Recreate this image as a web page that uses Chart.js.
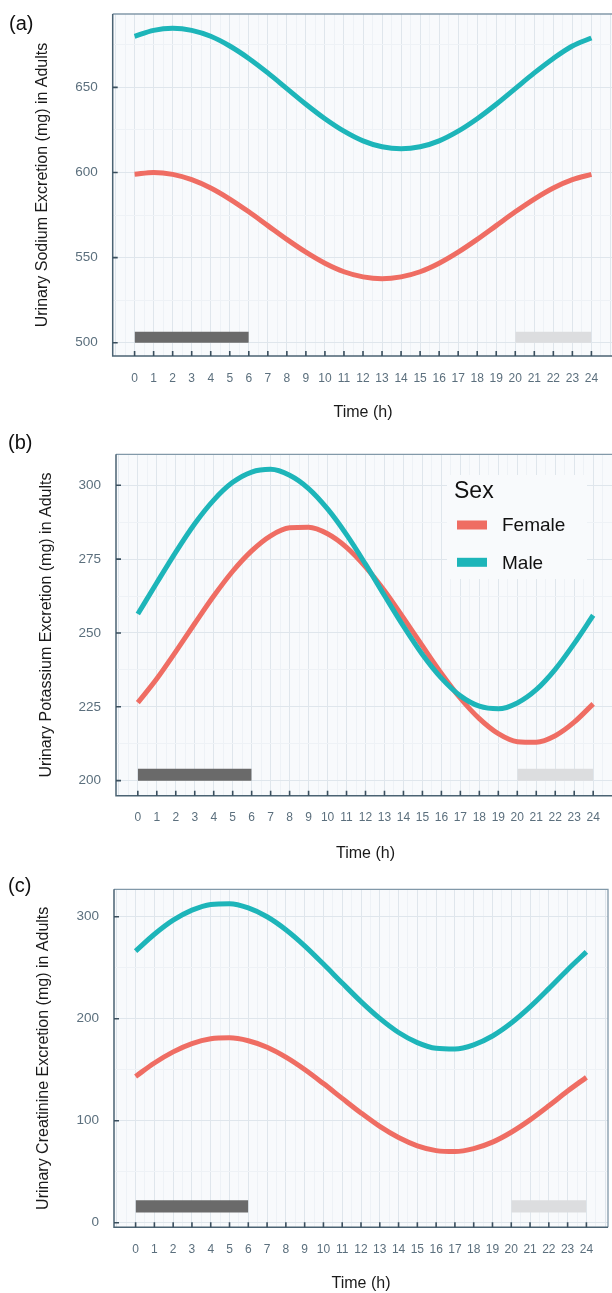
<!DOCTYPE html>
<html>
<head>
<meta charset="utf-8">
<script src="https://cdn.jsdelivr.net/npm/chart.js@4.4.1/dist/chart.umd.min.js"></script>
<style>
html, body { margin: 0; padding: 0; background: #fff; }
#wrap { position: relative; width: 612px; height: 1293px; overflow: hidden; }
canvas { position: absolute; left: 0; }
</style>
</head>
<body>
<div id="wrap">
  <canvas id="chartA" width="620" height="430" style="top:0px"></canvas>
  <canvas id="chartB" width="620" height="440" style="top:425px"></canvas>
  <canvas id="chartC" width="620" height="433" style="top:860px"></canvas>
</div>
<script>
// hours of the day (x axis ticks)
var hours = [0,1,2,3,4,5,6,7,8,9,10,11,12,13,14,15,16,17,18,19,20,21,22,23,24];

// (a) sodium
var sodiumMale   = [680.0,683.5,684.7,683.5,680.0,674.3,667.0,658.5,649.3,640.1,631.6,624.3,618.6,615.1,613.9,615.1,618.6,624.3,631.6,640.1,649.3,658.5,667.0,674.3,679.0];
var sodiumFemale = [598.9,600.0,598.9,595.8,590.9,584.4,576.9,568.8,560.7,553.2,546.7,541.7,538.7,537.6,538.7,541.7,546.7,553.2,560.7,568.8,576.9,584.4,590.9,595.8,598.9];
var sodiumTicks  = [500,550,600,650];

// (b) potassium
var potassiumMale   = [256.4,267.0,277.4,287.0,295.0,301.0,304.5,305.4,303.4,298.9,292.0,283.3,273.3,262.7,252.3,242.7,234.7,228.7,225.2,224.3,226.3,230.8,237.7,246.4,256.0];
var potassiumFemale = [226.4,234.5,243.7,253.2,262.5,270.9,277.8,282.9,285.6,285.8,283.6,279.0,272.4,264.3,255.1,245.6,236.3,227.9,221.0,215.9,213.2,213.0,215.2,219.8,226.0];
var potassiumTicks  = [200,225,250,275,300];

// (c) creatinine
var creatinineMale   = [266.3,282.8,296.6,306.5,312.1,312.8,308.7,300.0,287.3,271.5,253.6,235.0,216.8,200.3,186.5,176.6,171.0,170.3,174.4,183.1,195.8,211.6,229.5,248.1,265.5];
var creatinineFemale = [143.4,156.6,167.5,175.6,180.3,181.3,178.4,172.0,162.3,150.2,136.4,121.9,107.6,94.4,83.5,75.4,70.7,69.7,72.6,79.0,88.7,100.8,114.6,129.1,142.5];
var creatinineTicks  = [0,100,200,300];

// sleep / evening bands (hours)
var darkBand  = [0, 6];
var lightBand = [20, 24];

var sexLabels = ['Female', 'Male'];

var TEAL = '#1db5b9';
var SALMON = '#ef6d63';
var FONT = "'Liberation Sans', Arial, sans-serif";
var plotBg = '#f8fafc';
var gridMajor = '#dfe6ec';
var gridMinor = '#eef2f6';
var tickColor = '#5b6f7d';

function pts(ys) {
  return hours.map(function (h, i) { return {x: h, y: ys[i]}; });
}

var panelPlugin = {
  id: 'panel',
  beforeDraw: function (chart) {
    var a = chart.chartArea, c = chart.ctx;
    c.save();
    c.fillStyle = plotBg;
    c.fillRect(a.left, a.top, a.right - a.left, a.bottom - a.top);
    c.restore();
  },
  beforeDatasetsDraw: function (chart) {
    var p = chart.options.plugins.panel;
    if (!p.legend) return;
    var c = chart.ctx;
    c.save();
    c.fillStyle = plotBg;
    c.fillRect(447, 50, 140, 104);
    c.restore();
  },
  afterDraw: function (chart) {
    var p = chart.options.plugins.panel;
    var a = chart.chartArea, c = chart.ctx;
    var xs = chart.scales.x, ys = chart.scales.y;
    c.save();
    // frame
    c.strokeStyle = '#8299a9';
    c.lineWidth = 1.3;
    c.beginPath();
    c.moveTo(a.left, a.top); c.lineTo(a.right, a.top); c.lineTo(a.right, a.bottom);
    c.stroke();
    c.strokeStyle = '#4b6373';
    c.lineWidth = 1.5;
    c.beginPath();
    c.moveTo(a.left, a.top); c.lineTo(a.left, a.bottom); c.lineTo(a.right, a.bottom);
    c.stroke();
    // inward tick marks
    c.strokeStyle = '#3a4f5e';
    c.lineWidth = 1.6;
    c.beginPath();
    hours.forEach(function (h) {
      var px = xs.getPixelForValue(h);
      c.moveTo(px, a.bottom); c.lineTo(px, a.bottom - 5);
    });
    p.yTicks.forEach(function (v) {
      var py = ys.getPixelForValue(v);
      c.moveTo(a.left, py); c.lineTo(a.left + 5, py);
    });
    c.stroke();
    // panel tag
    c.fillStyle = '#111';
    c.font = '20px ' + FONT;
    c.textBaseline = 'middle';
    c.textAlign = 'left';
    c.fillText(p.tag, p.tagX, p.tagY);
    // legend
    if (p.legend) {
      c.font = '23px ' + FONT;
      c.fillText('Sex', 454, 67);
      var cols = [SALMON, TEAL];
      sexLabels.forEach(function (lab, i) {
        var y = 100 + i * 37.3;
        c.fillStyle = cols[i];
        c.fillRect(457, y - 4.5, 30, 9);
        c.fillStyle = '#111';
        c.font = '19px ' + FONT;
        c.fillText(lab, 502, y + 1);
      });
    }
    c.restore();
  }
};

function makeChart(id, p) {
  var ctx = document.getElementById(id).getContext('2d');
  return new Chart(ctx, {
    type: 'line',
    data: {
      datasets: [
        { label: 'Male', data: pts(p.male), borderColor: TEAL, borderWidth: 5, pointRadius: 0,
          cubicInterpolationMode: 'monotone', fill: false, borderCapStyle: 'butt' },
        { label: 'Female', data: pts(p.female), borderColor: SALMON, borderWidth: 5, pointRadius: 0,
          cubicInterpolationMode: 'monotone', fill: false, borderCapStyle: 'butt' },
        { label: 'dark', data: [{x: darkBand[0], y: p.band[1]}, {x: darkBand[1], y: p.band[1]}],
          fill: {value: p.band[0]}, backgroundColor: '#6a6a6a', borderWidth: 0, pointRadius: 0 },
        { label: 'light', data: [{x: lightBand[0], y: p.band[1]}, {x: lightBand[1], y: p.band[1]}],
          fill: {value: p.band[0]}, backgroundColor: '#dcdddf', borderWidth: 0, pointRadius: 0 }
      ]
    },
    options: {
      responsive: false,
      animation: false,
      layout: { padding: { top: p.top, left: 0, right: p.padRight, bottom: p.padBottom } },
      plugins: {
        legend: { display: false },
        tooltip: { enabled: false },
        panel: { tag: p.tag, tagX: p.tagX, tagY: p.tagY, yTicks: p.yTicks, legend: p.legend }
      },
      scales: {
        x: {
          type: 'linear', min: -1.15, max: 25.15,
          afterFit: function (s) { s.height = p.xHeight; },
          border: { display: false },
          grid: {
            color: function (c) { return Number.isInteger(c.tick.value) ? gridMajor : gridMinor; },
            lineWidth: 1, drawTicks: true, tickLength: 15, tickColor: 'rgba(0,0,0,0)'
          },
          ticks: {
            stepSize: 0.5, includeBounds: false, autoSkip: false, maxRotation: 0,
            padding: 0, color: tickColor, font: { family: FONT, size: 12 },
            callback: function (v) { return hours.indexOf(v) >= 0 ? String(v) : ''; }
          },
          title: { display: true, text: 'Time (h)', color: '#1a1a1a',
                   font: { family: FONT, size: 16 }, padding: { top: 0, bottom: 0 } }
        },
        y: {
          min: p.yMin, max: p.yMax,
          afterFit: function (s) { s.width = p.left; },
          border: { display: false },
          grid: {
            color: function (c) { return p.yTicks.indexOf(c.tick.value) >= 0 ? gridMajor : gridMinor; },
            lineWidth: 1, drawTicks: true, tickLength: 15, tickColor: 'rgba(0,0,0,0)'
          },
          ticks: {
            stepSize: p.yStep, includeBounds: false, padding: 0,
            color: tickColor, font: { family: FONT, size: 13.5 },
            callback: function (v) { return p.yTicks.indexOf(v) >= 0 ? String(v) : ''; }
          },
          title: { display: true, text: p.yTitle, color: '#1a1a1a',
                   font: { family: FONT, size: 16 }, padding: { top: p.yTitleX - 9.6, bottom: 0 } }
        }
      }
    },
    plugins: [panelPlugin]
  });
}

makeChart('chartA', {
  male: sodiumMale, female: sodiumFemale, yTicks: sodiumTicks,
  yMin: 492.2, yMax: 693.1, yStep: 25, band: [500, 506.5],
  yTitle: 'Urinary Sodium Excretion (mg) in Adults', yTitleX: 43,
  top: 14, left: 112.7, padRight: 6.7, xHeight: 66.6, padBottom: 7.4,
  tag: '(a)', tagX: 9, tagY: 24, legend: false
});

makeChart('chartB', {
  male: potassiumMale, female: potassiumFemale, yTicks: potassiumTicks,
  yMin: 194.9, yMax: 310.5, yStep: 12.5, band: [200, 204],
  yTitle: 'Urinary Potassium Excretion (mg) in Adults', yTitleX: 47,
  top: 29.3, left: 116, padRight: 5, xHeight: 67.6, padBottom: 1.7,
  tag: '(b)', tagX: 8, tagY: 18, legend: true
});

makeChart('chartC', {
  male: creatinineMale, female: creatinineFemale, yTicks: creatinineTicks,
  yMin: -4.5, yMax: 326.9, yStep: 50, band: [10, 22],
  yTitle: 'Urinary Creatinine Excretion (mg) in Adults', yTitleX: 44,
  top: 29.3, left: 114, padRight: 12, xHeight: 65.7, padBottom: 0,
  tag: '(c)', tagX: 8, tagY: 26, legend: false
});
</script>
</body>
</html>
